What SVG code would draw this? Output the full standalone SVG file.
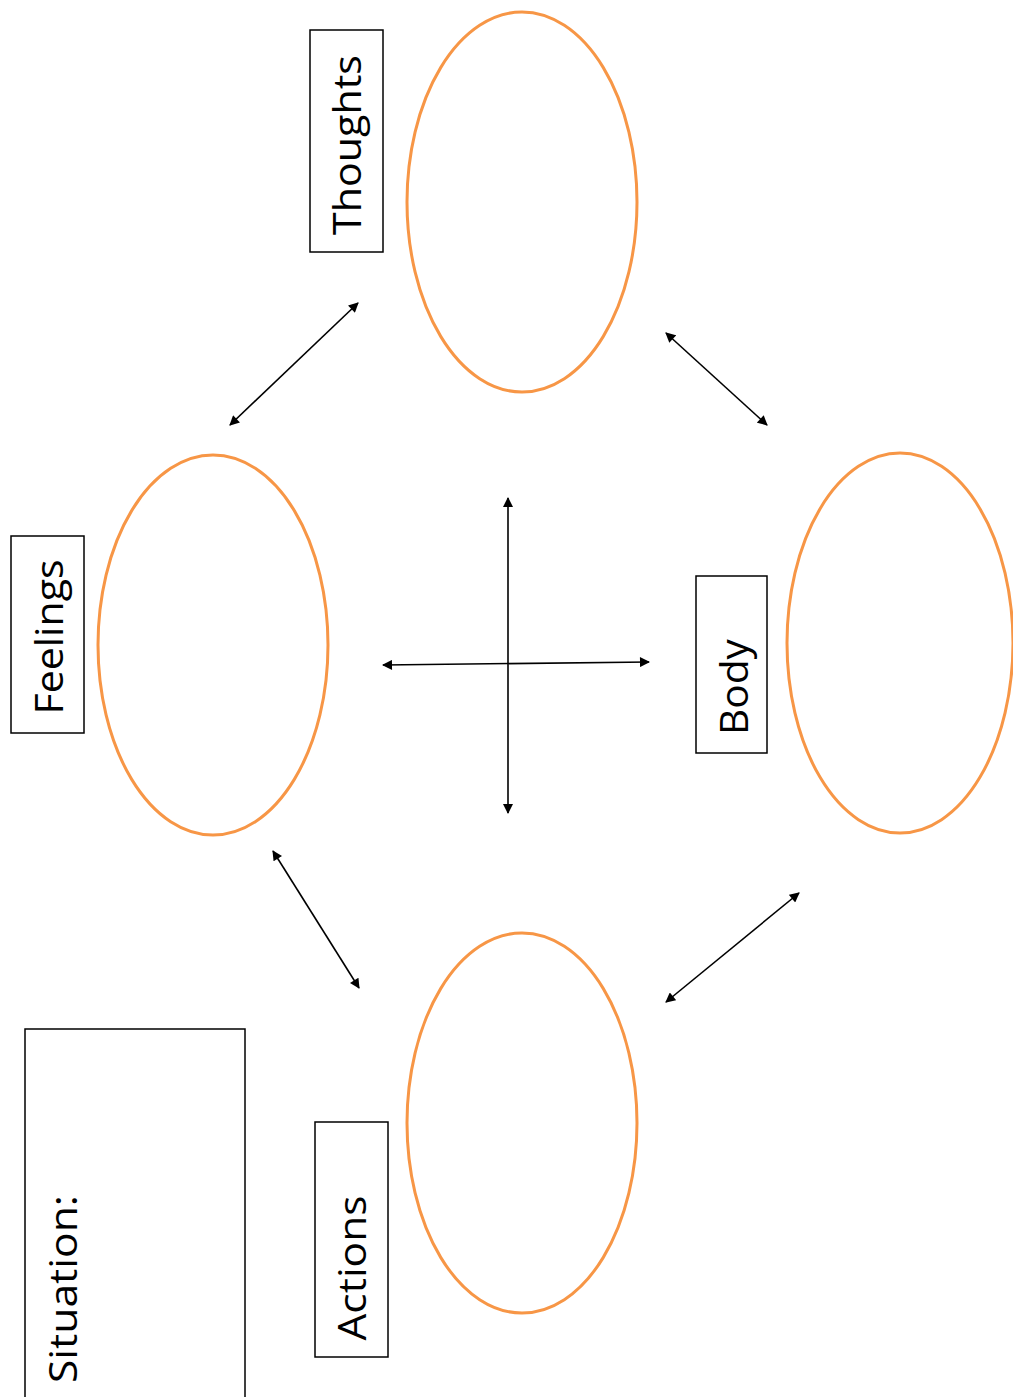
<svg xmlns="http://www.w3.org/2000/svg" width="1013" height="1397" viewBox="0 0 1013 1397">
<style>
.ell{fill:none;stroke:#F79646;stroke-width:3}
.box{fill:#fff;stroke:#000;stroke-width:1.5}
.lbl{font-family:"Open Sans","Noto Sans",sans-serif;font-size:38px;fill:#000}
.con{stroke:#000;stroke-width:1.6;fill:none;marker-start:url(#ah);marker-end:url(#ah)}
</style>
<defs>
<marker id="ah" viewBox="0 0 10 10" refX="9" refY="5" markerWidth="11" markerHeight="10" markerUnits="userSpaceOnUse" orient="auto-start-reverse">
<path d="M0,0 L10,5 L0,10 z" fill="#000"/>
</marker>
</defs>
<rect width="1013" height="1397" fill="#fff"/>
<g id="thoughts">
<ellipse class="ell" cx="522" cy="202" rx="115" ry="190"/>
<rect class="box" x="310" y="30" width="73" height="222"/>
<text class="lbl" transform="translate(361,145) rotate(-90)" text-anchor="middle" textLength="180" lengthAdjust="spacingAndGlyphs">Thoughts</text>
</g>
<g id="feelings">
<ellipse class="ell" cx="213" cy="645" rx="115" ry="190"/>
<rect class="box" x="11" y="536" width="73" height="197"/>
<text class="lbl" transform="translate(63,637) rotate(-90)" text-anchor="middle" textLength="155" lengthAdjust="spacingAndGlyphs">Feelings</text>
</g>
<g id="body">
<ellipse class="ell" cx="900" cy="643" rx="113" ry="190"/>
<rect class="box" x="696" y="576" width="71" height="177"/>
<text class="lbl" transform="translate(748,687) rotate(-90)" text-anchor="middle" textLength="96" lengthAdjust="spacingAndGlyphs">Body</text>
</g>
<g id="actions">
<ellipse class="ell" cx="522" cy="1123" rx="115" ry="190"/>
<rect class="box" x="315" y="1122" width="73" height="235"/>
<text class="lbl" transform="translate(366,1268) rotate(-90)" text-anchor="middle" textLength="145" lengthAdjust="spacingAndGlyphs">Actions</text>
</g>
<g id="situation">
<rect class="box" x="25" y="1029" width="220" height="380"/>
<text class="lbl" transform="translate(77,1383) rotate(-90)" textLength="188" lengthAdjust="spacingAndGlyphs">Situation:</text>
</g>
<g id="connectors">
<line class="con" x1="230" y1="425" x2="358" y2="303"/>
<line class="con" x1="666" y1="333" x2="767" y2="425"/>
<line class="con" x1="273" y1="851" x2="359" y2="988"/>
<line class="con" x1="666" y1="1002" x2="799" y2="893"/>
<line class="con" x1="508" y1="498" x2="508" y2="813"/>
<line class="con" x1="383" y1="665" x2="649" y2="662"/>
</g>
</svg>
